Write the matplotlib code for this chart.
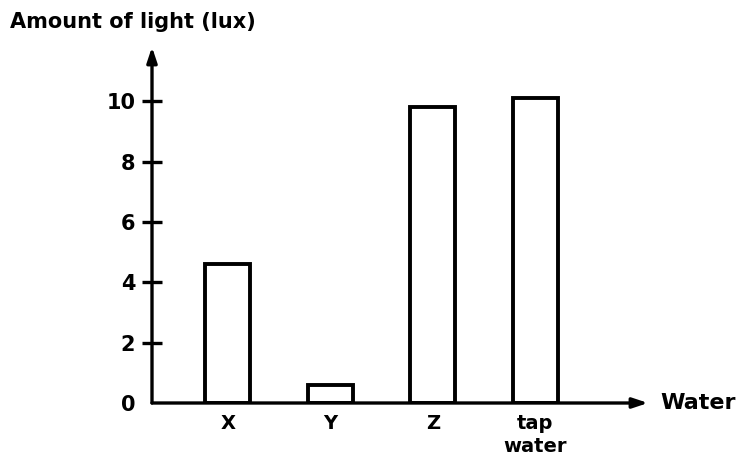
import matplotlib.pyplot as plt

# light measured through each water sample
samples = ['X', 'Y', 'Z', 'tap\nwater']
light_lux = [4.6, 0.6, 9.8, 10.1]
y_ticks = [0, 2, 4, 6, 8, 10]

fig = plt.figure(figsize=(7.46, 4.65), dpi=100)
ax = fig.add_axes([152 / 746, 62 / 465, 496 / 746, 356 / 465])

pos = list(range(len(samples)))
ax.bar(pos, light_lux, width=0.44, color='white', edgecolor='black', linewidth=2.8, zorder=2)

ax.set_xlim(-0.74, 4.1)
ax.set_ylim(0, 11.8)

for side in ['top', 'right', 'left', 'bottom']:
    ax.spines[side].set_visible(False)

# axes drawn as arrows from the origin
ax.annotate('', xy=(0, 1), xytext=(0, 0), xycoords='axes fraction',
            arrowprops=dict(arrowstyle='-|>,head_length=0.9,head_width=0.3', lw=2.4,
                            color='black', shrinkA=0, shrinkB=0), zorder=3)
ax.annotate('', xy=(1, 0), xytext=(0, 0), xycoords='axes fraction',
            arrowprops=dict(arrowstyle='-|>,head_length=0.9,head_width=0.3', lw=2.4,
                            color='black', shrinkA=0, shrinkB=0), zorder=3)

ax.set_yticks(y_ticks)
ax.set_yticklabels([str(t) for t in y_ticks], fontsize=15, fontweight='bold')
ax.tick_params(axis='y', direction='inout', length=14, width=2.4, pad=5)
ax.yaxis.get_major_ticks()[0].tick1line.set_visible(False)

ax.set_xticks(pos)
ax.set_xticklabels(samples, fontsize=14, fontweight='bold', linespacing=1.25)
ax.tick_params(axis='x', length=0, pad=8)

ax.text(1.025, 0, 'Water', transform=ax.transAxes, fontsize=16, fontweight='bold',
        ha='left', va='center')
fig.text(0.013, 0.975, 'Amount of light (lux)', fontsize=15, fontweight='bold',
         ha='left', va='top')

plt.savefig('out.png', dpi=100)
